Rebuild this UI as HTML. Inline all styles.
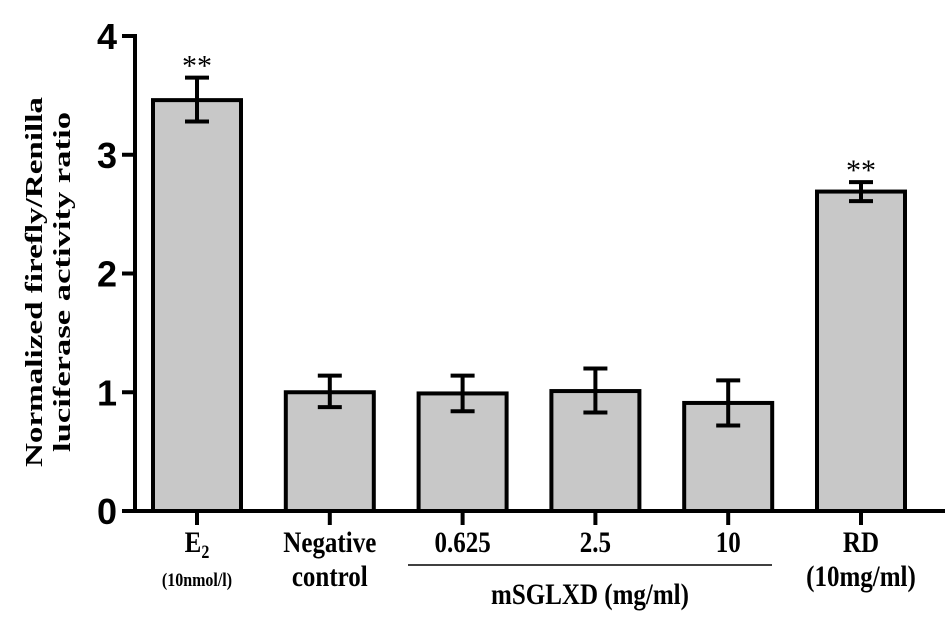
<!DOCTYPE html>
<html><head><meta charset="utf-8"><style>
body{margin:0;background:#fff}
svg text{font-family:"Liberation Serif",serif;font-weight:bold;fill:#000}
svg text.sans{font-family:"Liberation Sans",sans-serif}
</style></head><body>
<svg id="c" width="945" height="620">
<text transform="translate(42,282) rotate(-90)" text-anchor="middle" font-size="24" textLength="370" lengthAdjust="spacingAndGlyphs">Normalized firefly/Renilla</text>
<text transform="translate(70,282) rotate(-90)" text-anchor="middle" font-size="24" textLength="340" lengthAdjust="spacingAndGlyphs">luciferase activity ratio</text>
<g id="g"></g>
</svg>
<script>
const categories=["E2","Negative control","0.625","2.5","10","RD"];
const values=[3.46,1.0,0.99,1.01,0.91,2.69];
const errLow=[3.28,0.875,0.84,0.83,0.72,2.61];
const errHigh=[3.65,1.14,1.14,1.2,1.1,2.77];
const signif=["**","","","","","**"];
const yTicks=[0,1,2,3,4];
const NS="http://www.w3.org/2000/svg",g=document.getElementById('g');
function y(v){return 511-v*118.75}
function x(i){return 197+i*132.8}
function mk(t,a){const e=document.createElementNS(NS,t);for(const k in a)e.setAttribute(k,a[k]);g.appendChild(e);return e}
for(let i=0;i<values.length;i++){
 const cx=x(i);
 const b=mk('rect',{x:cx-44,y:y(values[i]),width:88,height:511-y(values[i]),fill:'#c8c8c8',stroke:'#000','stroke-width':4});
 
 
 const e=mk('path',{d:`M${cx} ${y(errLow[i])}V${y(errHigh[i])}M${cx-12} ${y(errLow[i])}H${cx+12}M${cx-12} ${y(errHigh[i])}H${cx+12}`,stroke:'#000','stroke-width':4,fill:'none'});
 
 
 mk('path',{d:`M${cx} 511V525`,stroke:'#000','stroke-width':4});
 if(signif[i]){const s=mk('text',{x:cx,y:y(errHigh[i])-2,'text-anchor':'middle','font-size':30,style:'font-weight:normal'});s.textContent=signif[i];
 
 }
}
for(const t of yTicks){
 mk('path',{d:`M122 ${y(t)}H135`,stroke:'#000','stroke-width':4});
 const l=mk('text',{x:117,y:y(t)+13,'text-anchor':'end','font-size':36,class:'sans'});l.textContent=t;
 
 
}
const ax=mk('path',{d:'M135 34V511H945',stroke:'#000','stroke-width':4,fill:'none'});


function lab(tx,xx,yy,fs,name){const l=mk('text',{x:xx,y:yy,'text-anchor':'middle','font-size':fs,transform:`translate(0,${yy}) scale(1,1.2) translate(0,${-yy})`});l.innerHTML=tx;
 
 }
lab('E<tspan font-size="16" dy="5">2</tspan>',x(0),552,25,'x-label-e2');
lab('(10nmol/l)',x(0),586,16,'x-label-e2-unit');
lab('Negative',x(1),552,25,'x-label-negative');
lab('control',x(1),586,25,'x-label-control');
lab('0.625',x(2),552,25,'x-label-0625');
lab('2.5',x(3),552,25,'x-label-25');
lab('10',x(4),552,25,'x-label-10');
lab('RD',x(5),552,25,'x-label-rd');
lab('(10mg/ml)',x(5),586,25,'x-label-rd-unit');
lab('mSGLXD (mg/ml)',590,604,25,'group-label');
const gl=mk('path',{d:'M408 565H772',stroke:'#000','stroke-width':1.5});


</script>
</body></html>
